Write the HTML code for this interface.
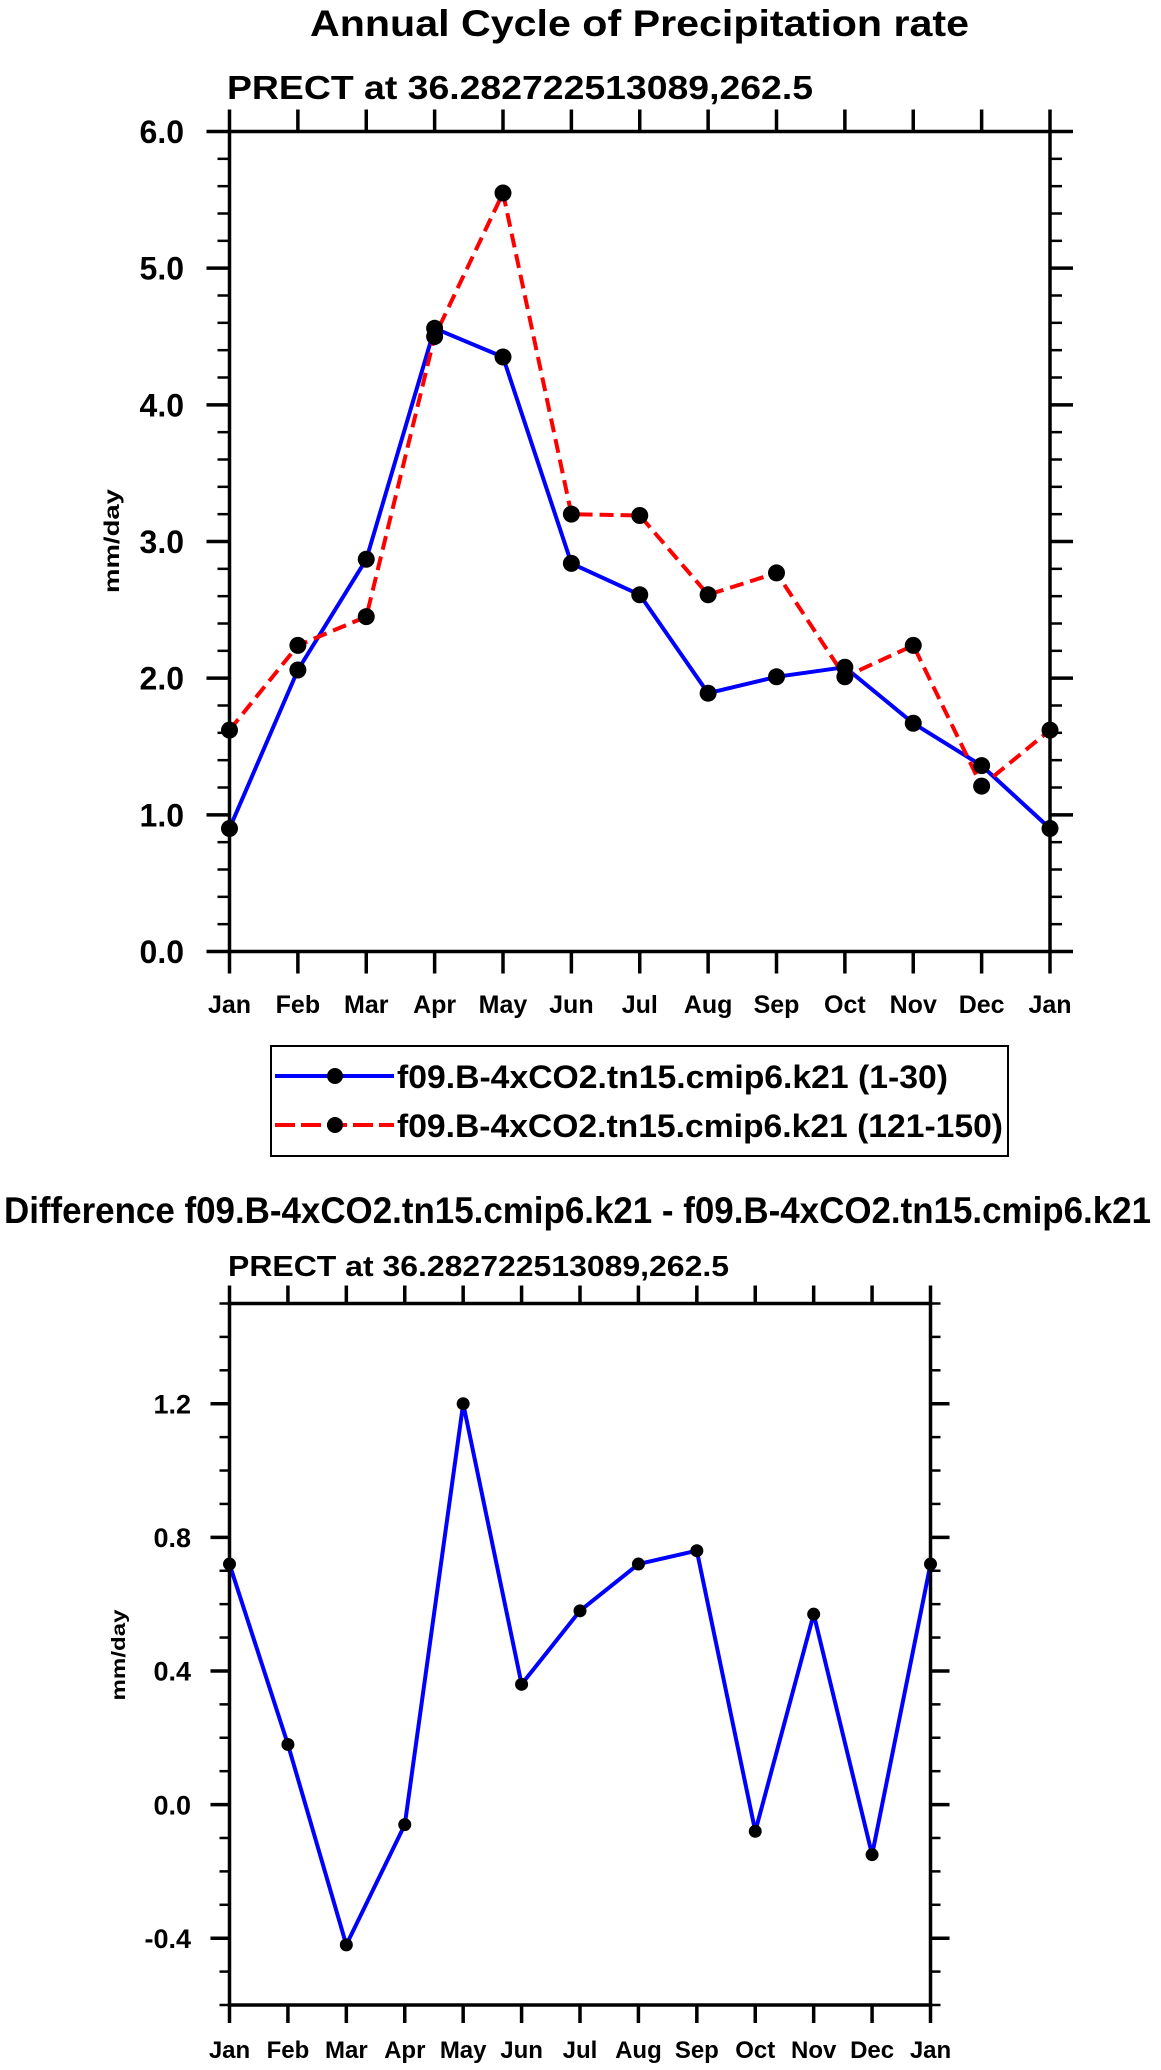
<!DOCTYPE html>
<html><head><meta charset="utf-8"><title>Annual Cycle of Precipitation rate</title>
<style>
html,body{margin:0;padding:0;background:#fff;}
svg{display:block;font-family:"Liberation Sans",Arial,sans-serif;font-weight:bold;}
</style></head>
<body>
<svg id="chart" width="1161" height="2070" viewBox="0 0 1161 2070" xmlns="http://www.w3.org/2000/svg">
  <text x="310" y="36" font-size="37" textLength="659" lengthAdjust="spacingAndGlyphs">Annual Cycle of Precipitation rate</text>
  <text x="227" y="99" font-size="33" textLength="586" lengthAdjust="spacingAndGlyphs">PRECT at 36.282722513089,262.5</text>
  <g id="top"></g>
  <text transform="translate(119,541) rotate(-90)" text-anchor="middle" font-size="21" textLength="104" lengthAdjust="spacingAndGlyphs">mm/day</text>

  <g>
    <rect x="271" y="1046" width="737" height="110" fill="none" stroke="#000" stroke-width="2"/>
    <g>
      <line x1="275" y1="1076" x2="394" y2="1076" stroke="#0000ff" stroke-width="4"/>
      <circle cx="335" cy="1076" r="8" fill="#000"/>
      <text x="397" y="1088" font-size="32" textLength="551" lengthAdjust="spacingAndGlyphs">f09.B-4xCO2.tn15.cmip6.k21 (1-30)</text>
    </g>
    <g>
      <line x1="275" y1="1125" x2="394" y2="1125" stroke="#ff0000" stroke-width="4" stroke-dasharray="20 6"/>
      <circle cx="335" cy="1125" r="8" fill="#000"/>
      <text x="397" y="1137" font-size="32" textLength="606" lengthAdjust="spacingAndGlyphs">f09.B-4xCO2.tn15.cmip6.k21 (121-150)</text>
    </g>
  </g>

  <text x="4" y="1223" font-size="37" textLength="1147" lengthAdjust="spacingAndGlyphs">Difference f09.B-4xCO2.tn15.cmip6.k21 - f09.B-4xCO2.tn15.cmip6.k21</text>
  <text x="228" y="1276" font-size="29" textLength="501" lengthAdjust="spacingAndGlyphs">PRECT at 36.282722513089,262.5</text>
  <g id="bot"></g>
  <text transform="translate(125,1655) rotate(-90)" text-anchor="middle" font-size="19" textLength="91" lengthAdjust="spacingAndGlyphs">mm/day</text>
</svg>
<script>
const months = ["Jan","Feb","Mar","Apr","May","Jun","Jul","Aug","Sep","Oct","Nov","Dec","Jan"];
const series130 = [0.90,2.06,2.87,4.56,4.35,2.84,2.61,1.89,2.01,2.08,1.67,1.36,0.90];
const series121150 = [1.62,2.24,2.45,4.50,5.55,3.20,3.19,2.61,2.77,2.01,2.24,1.21,1.62];
const diffValues = [0.72,0.18,-0.42,-0.06,1.20,0.36,0.58,0.72,0.76,-0.08,0.57,-0.15,0.72];
const topYTicks = ["0.0","1.0","2.0","3.0","4.0","5.0","6.0"];
const botYTicks = ["-0.4","0.0","0.4","0.8","1.2"];

const NS = "http://www.w3.org/2000/svg";
function mk(parent, tag, attrs, txt){
  const e = document.createElementNS(NS, tag);
  for (const k in attrs) e.setAttribute(k, attrs[k]);
  if (txt !== undefined) e.textContent = txt;
  parent.appendChild(e);
  return e;
}

function drawPlot(g, o){
  const xS = i => o.L + (o.R - o.L) * i / (months.length - 1);
  const yS = v => o.B - (o.B - o.T) * (v - o.ymin) / (o.ymax - o.ymin);
  o.series.forEach(s => {
    const pts = s.values.map((v,i) => xS(i).toFixed(1) + "," + yS(v).toFixed(1)).join(" ");
    const pl = mk(g, "polyline", {points: pts, fill: "none", stroke: s.color, "stroke-width": 4, "stroke-linejoin": "round"});
    
    
    if (s.dash) pl.setAttribute("stroke-dasharray", s.dash);
  });
  o.series.forEach(s => {
    s.values.forEach((v,i) => {
      const c = mk(g, "circle", {cx: xS(i), cy: yS(v), r: o.r, fill: "#000"});
      
      
    });
  });
  const fr = mk(g, "rect", {x: o.L, y: o.T, width: o.R - o.L, height: o.B - o.T, fill: "none", stroke: "#000", "stroke-width": 3.5});
  
  
  months.forEach((m,i) => {
    const x = xS(i);
    const t1 = mk(g, "line", {x1: x, y1: o.B, x2: x, y2: o.B + o.xt, stroke: "#000", "stroke-width": 3.5});
    
    
    const t2 = mk(g, "line", {x1: x, y1: o.T, x2: x, y2: o.T - o.xt, stroke: "#000", "stroke-width": 3.5});
    
    
    const lb = mk(g, "text", {x: x, y: o.xly, "text-anchor": "middle", "font-size": o.xfs}, m);
    
    
  });
  const nMin = Math.round((o.ymax - o.ymin) / o.minor);
  for (let k = 0; k <= nMin; k++){
    const v = o.ymin + k * o.minor;
    const y = yS(v);
    [[o.L, o.L - o.mn],[o.R, o.R + o.mn]].forEach(p => {
      const t = mk(g, "line", {x1: p[0], y1: y, x2: p[1], y2: y, stroke: "#000", "stroke-width": 2.5});
      
      
    });
  }
  o.ticks.forEach(lbl => {
    const y = yS(parseFloat(lbl));
    [[o.L, o.L - o.mj],[o.R, o.R + o.mj]].forEach(p => {
      const t = mk(g, "line", {x1: p[0], y1: y, x2: p[1], y2: y, stroke: "#000", "stroke-width": 3.5});
      
      
    });
    const lb = mk(g, "text", {x: o.ylx, y: y + o.yfs * 0.36, "text-anchor": "end", "font-size": o.yfs}, lbl);
    
    
  });
}

drawPlot(document.getElementById("top"), {
  L: 229.5, R: 1050, T: 131.5, B: 951.5, ymin: 0, ymax: 6, minor: 0.2,
  ticks: topYTicks, xt: 22, mj: 23, mn: 12, xly: 1013, xfs: 25, ylx: 184, yfs: 32, r: 8.5,
  series: [
    {name: "series-1-30", values: series130, color: "#0000ff"},
    {name: "series-121-150", values: series121150, color: "#ff0000", dash: "14 7"}
  ]
});
drawPlot(document.getElementById("bot"), {
  L: 229.5, R: 930.5, T: 1303.5, B: 2005, ymin: -0.6, ymax: 1.5, minor: 0.1,
  ticks: botYTicks, xt: 18, mj: 19, mn: 10, xly: 2058, xfs: 24, ylx: 191, yfs: 27, r: 6.5,
  series: [
    {name: "difference", values: diffValues, color: "#0000ff"}
  ]
});
</script>
</body></html>
